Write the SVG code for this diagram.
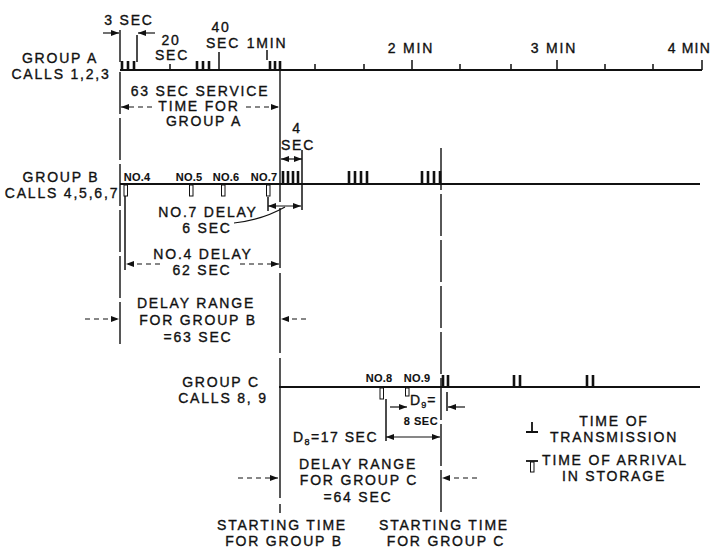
<svg xmlns="http://www.w3.org/2000/svg" width="713" height="549" viewBox="0 0 713 549">
<style>
  text { font-family: "Liberation Sans", Arial, sans-serif; fill: #111; stroke: #111; stroke-width: 0.35px; }
  .t { font-size: 14px; letter-spacing: 1.8px; text-anchor: middle; }
  .s { font-size: 11px; letter-spacing: 0.2px; text-anchor: middle; font-weight: bold; stroke-width: 0.1px; }
  .ln { stroke: #111; stroke-width: 1.5; fill: none; }
  .ax { stroke: #111; stroke-width: 1.8; fill: none; }
  .bar { stroke: #111; stroke-width: 2.6; fill: none; }
  .vd { stroke: #111; stroke-width: 1.4; fill: none; stroke-dasharray: 42 4; }
  .dim { stroke: #111; stroke-width: 1.2; fill: none; }
  .dd { stroke: #111; stroke-width: 1.2; fill: none; stroke-dasharray: 5 4; }
  .sto { stroke: #111; stroke-width: 1; fill: #fff; }
</style>
<defs>
  <marker id="ah" viewBox="0 0 8 6" refX="8" refY="3" markerWidth="8" markerHeight="6" markerUnits="userSpaceOnUse" orient="auto-start-reverse">
    <path d="M0,0 L8,3 L0,6 z" fill="#111"/>
  </marker>
</defs>

<g id="connectors">
  <path class="vd" d="M120,30 V62 M120,72 V348"/>
  <path class="ln" d="M137,35 V62"/>
  <path class="vd" d="M280,62 V513" style="stroke-dasharray:140 6 60 5 80 5"/>
  <path class="vd" d="M441,148 V513"/>
  <path class="ln" d="M125,190 V270"/>
  <path class="ln" d="M302,150 V210"/>
  <path class="ln" d="M268,197 V211"/>
  <path class="ln" d="M386,399 V441"/>
  <path class="ln" d="M447,392 V411"/>
  <path class="dim" d="M103,33 H119" marker-end="url(#ah)"/>
  <path class="dim" d="M155,33 H138" marker-end="url(#ah)"/>
  <path class="dd" d="M152,107 H121" marker-end="url(#ah)"/>
  <path class="dd" d="M246,107 H279" marker-end="url(#ah)"/>
  <path class="dim" d="M281,159 H302" marker-start="url(#ah)" marker-end="url(#ah)"/>
  <path class="dim" d="M268,206 H301" marker-start="url(#ah)" marker-end="url(#ah)"/>
  <path class="dim" d="M234,223 Q262,220 285,207"/>
  <path class="dd" d="M160,264 H126" marker-end="url(#ah)"/>
  <path class="dd" d="M240,264 H279" marker-end="url(#ah)"/>
  <path class="dd" d="M85,319 H119" marker-end="url(#ah)"/>
  <path class="dd" d="M306,319 H281" marker-end="url(#ah)"/>
  <path class="dim" d="M390,407 H407" marker-end="url(#ah)"/>
  <path class="dim" d="M465,407 H448" marker-end="url(#ah)"/>
  <path class="dim" d="M386,437 H440" marker-start="url(#ah)" marker-end="url(#ah)"/>
  <path class="dd" d="M238,478 H278" marker-end="url(#ah)"/>
  <path class="dd" d="M477,478 H442" marker-end="url(#ah)"/>
</g>

<g id="groupA">
  <text class="t" x="60" y="63">GROUP A</text>
  <text class="t" x="61" y="79">CALLS 1,2,3</text>
  <path class="ax" d="M120,70 H702"/>
  <path class="ln" d="M170,64 V70 M219,52 V70 M267,50 V60 M315,64 V70 M364,64 V70 M412,60 V70 M460,64 V70 M511,64 V70 M557,60 V70 M605,64 V70 M653,64 V70 M702,60 V70"/>
  <path class="bar" d="M122,61 V70 M128,61 V70 M134,61 V70 M197,61 V70 M203,61 V70 M209,61 V70 M270,61 V70 M275,61 V70 M280,61 V70"/>
  <text class="t" x="129" y="25">3 SEC</text>
  <text class="t" x="171" y="45">20</text>
  <text class="t" x="172" y="60">SEC</text>
  <text class="t" x="221" y="32">40</text>
  <text class="t" x="223" y="48">SEC</text>
  <text class="t" x="267" y="48">1MIN</text>
  <text class="t" x="411" y="53">2 MIN</text>
  <text class="t" x="554" y="53">3 MIN</text>
  <text x="711" y="53" style="font-size:14px;letter-spacing:1.2px;text-anchor:end">4 MIN</text>
  <text class="t" x="200" y="96">63 SEC SERVICE</text>
  <text class="t" x="199" y="111">TIME FOR</text>
  <text class="t" x="204" y="126">GROUP A</text>
</g>

<g id="groupB">
  <text class="t" x="61" y="182">GROUP B</text>
  <text class="t" x="62" y="198">CALLS 4,5,6,7</text>
  <path class="ax" d="M120,184 H700"/>
  <text class="s" x="137" y="181">NO.4</text>
  <text class="s" x="189" y="181">NO.5</text>
  <text class="s" x="226" y="181">NO.6</text>
  <text class="s" x="264" y="181">NO.7</text>
  <rect class="sto" x="124" y="185" width="3.5" height="11"/>
  <rect class="sto" x="189.5" y="185" width="3.5" height="11"/>
  <rect class="sto" x="221.5" y="185" width="3.5" height="11"/>
  <rect class="sto" x="266.5" y="185" width="3.5" height="11"/>
  <path class="bar" d="M283,171 V184 M288,171 V184 M293,171 V184 M298,171 V184 M349,171 V184 M355,171 V184 M361,171 V184 M367,171 V184 M422,171 V184 M428,171 V184 M434,171 V184 M440,171 V184"/>
  <text class="t" x="297" y="133">4</text>
  <text class="t" x="298" y="150">SEC</text>
  <text class="t" x="208" y="217">NO.7 DELAY</text>
  <text class="t" x="207" y="233">6 SEC</text>
  <text class="t" x="203" y="259">NO.4 DELAY</text>
  <text class="t" x="202" y="275">62 SEC</text>
  <text class="t" x="196" y="308">DELAY RANGE</text>
  <text class="t" x="198" y="325">FOR GROUP B</text>
  <text class="t" x="198" y="342">=63 SEC</text>
</g>

<g id="groupC">
  <text class="t" x="221" y="387">GROUP C</text>
  <text class="t" x="223" y="403">CALLS 8, 9</text>
  <path class="ax" d="M279,387 H700"/>
  <text class="s" x="379" y="382">NO.8</text>
  <text class="s" x="417" y="382">NO.9</text>
  <rect class="sto" x="380" y="388" width="3.5" height="11"/>
  <rect class="sto" x="405.5" y="388" width="3.5" height="8"/>
  <path class="bar" d="M443,375 V387 M448,375 V387 M514,375 V387 M520,375 V387 M587,375 V387 M593,375 V387"/>
  <text x="410" y="405" style="font-size:14px;letter-spacing:1px">D<tspan style="font-size:9px" dy="3">9</tspan><tspan dy="-3">=</tspan></text>
  <text class="s" x="421" y="425" style="letter-spacing:0.5px">8 SEC</text>
  <text x="378" y="442" style="font-size:14px;letter-spacing:1.5px;text-anchor:end">D<tspan style="font-size:9px" dy="3">8</tspan><tspan dy="-3">=17 SEC</tspan></text>
  <text class="t" x="358" y="469">DELAY RANGE</text>
  <text class="t" x="359" y="485">FOR GROUP C</text>
  <text class="t" x="358" y="502">=64 SEC</text>
</g>

<g id="startB">
  <text class="t" x="282" y="530">STARTING TIME</text>
  <text class="t" x="284" y="546">FOR GROUP B</text>
</g>
<g id="startC">
  <text class="t" x="444" y="530">STARTING TIME</text>
  <text class="t" x="446" y="546">FOR GROUP C</text>
</g>

<g id="legend">
  <path class="ln" d="M532,422 V432 M526,432 H538" style="stroke-width:1.8"/>
  <text class="t" x="614" y="426">TIME OF</text>
  <text class="t" x="614" y="442">TRANSMISSION</text>
  <path class="ln" d="M526,461 H538" style="stroke-width:1.8"/>
  <rect class="sto" x="530.5" y="462" width="3.5" height="10"/>
  <text class="t" x="615" y="465">TIME OF ARRIVAL</text>
  <text class="t" x="614" y="481">IN STORAGE</text>
</g>
</svg>
